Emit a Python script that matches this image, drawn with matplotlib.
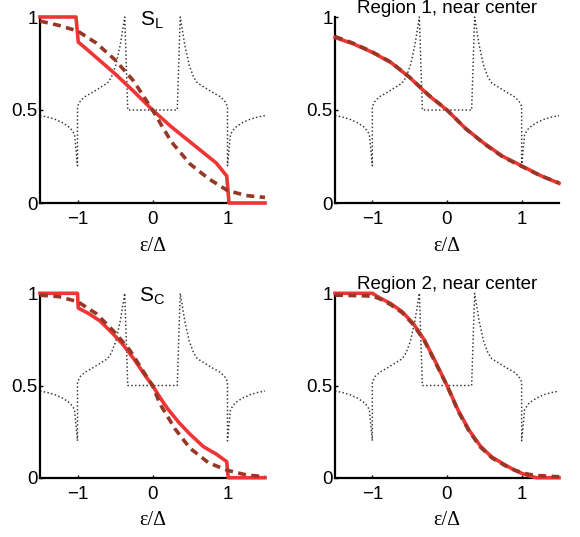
import matplotlib
matplotlib.use('Agg')
import matplotlib.pyplot as plt
import matplotlib.transforms as mtransforms

plt.rcParams['font.family'] = ['Liberation Sans', 'DejaVu Sans']
plt.rcParams['mathtext.fontset'] = 'custom'
plt.rcParams['mathtext.rm'] = 'Liberation Sans'
plt.rcParams['mathtext.it'] = 'Liberation Sans:italic'

# ---- density of states (dotted, same in every panel) ----
dos_x = [-1.5, -1.4, -1.3, -1.2, -1.1, -1.04, -1.0, -1.0, -0.96, -0.9, -0.8, -0.7,
         -0.6, -0.55, -0.49, -0.43, -0.37, -0.33, 0.33, 0.37, 0.43, 0.49, 0.55, 0.6,
         0.7, 0.8, 0.9, 0.96, 1.0, 1.0, 1.04, 1.1, 1.2, 1.3, 1.4, 1.5]
dos_y = [0.47, 0.462, 0.45, 0.432, 0.405, 0.37, 0.2, 0.52, 0.55, 0.572, 0.595, 0.62,
         0.645, 0.675, 0.74, 0.85, 1.0, 0.5, 0.5, 1.0, 0.85, 0.74, 0.675, 0.645,
         0.62, 0.595, 0.572, 0.55, 0.52, 0.2, 0.37, 0.405, 0.432, 0.45, 0.462, 0.47]

# ---- S_L ----
sl_solid_x = [-1.5, -1.02, -0.99, -0.9, -0.7, -0.5, -0.25, 0.0, 0.25, 0.45, 0.65, 0.85, 0.99, 1.02, 1.5]
sl_solid_y = [1.0, 1.0, 0.865, 0.835, 0.765, 0.695, 0.6, 0.5, 0.41, 0.345, 0.28, 0.215, 0.145, 0.0, 0.0]
sl_dash_x = [-1.5, -1.25, -1.0, -0.75, -0.5, -0.25, 0.0, 0.25, 0.5, 0.75, 1.0, 1.25, 1.5]
sl_dash_y = [0.978, 0.955, 0.925, 0.86, 0.77, 0.655, 0.5, 0.33, 0.21, 0.13, 0.067, 0.04, 0.03]

# ---- Region 1, near center ----
r1_x = [-1.5, -1.25, -1.0, -0.75, -0.5, -0.25, 0.0, 0.25, 0.5, 0.75, 1.0, 1.25, 1.5]
r1_solid_y = [0.89, 0.855, 0.81, 0.755, 0.675, 0.58, 0.5, 0.4, 0.32, 0.25, 0.2, 0.148, 0.106]
r1_dash_y = [0.895, 0.858, 0.812, 0.757, 0.676, 0.582, 0.5, 0.4, 0.318, 0.247, 0.197, 0.147, 0.108]

# ---- S_C ----
sc_solid_x = [-1.5, -1.0, -0.99, -0.85, -0.7, -0.55, -0.4, -0.25, -0.1, 0.0, 0.1, 0.2,
              0.35, 0.5, 0.68, 0.85, 0.99, 1.01, 1.5]
sc_solid_y = [1.0, 1.0, 0.92, 0.89, 0.85, 0.79, 0.725, 0.645, 0.555, 0.5, 0.435, 0.375,
              0.3, 0.236, 0.168, 0.128, 0.087, 0.0, 0.0]
sc_dash_x = [-1.5, -1.25, -1.0, -0.75, -0.5, -0.3, -0.1, 0.0, 0.1, 0.3, 0.5, 0.75, 1.0, 1.25, 1.5]
sc_dash_y = [0.99, 0.982, 0.955, 0.89, 0.787, 0.69, 0.562, 0.5, 0.4, 0.265, 0.16, 0.08, 0.04, 0.015, 0.005]

# ---- Region 2, near center ----
r2_x = [-1.5, -1.0, -0.9, -0.76, -0.6, -0.45, -0.3, -0.15, 0.0, 0.15, 0.3, 0.45, 0.6,
        0.78, 0.9, 1.0, 1.1, 1.2, 1.5]
r2_solid_y = [1.0, 1.0, 0.975, 0.946, 0.9, 0.835, 0.745, 0.625, 0.5, 0.365, 0.255, 0.17,
              0.112, 0.069, 0.042, 0.024, 0.01, 0.0, 0.0]
r2_dash_y = [0.99, 0.985, 0.97, 0.94, 0.895, 0.83, 0.74, 0.62, 0.5, 0.36, 0.25, 0.165,
             0.108, 0.065, 0.042, 0.028, 0.018, 0.012, 0.005]

x_ticks = [-1, 0, 1]
x_ticklabels = ['\u22121', '0', '1']
y_ticks = [0, 0.5, 1]
y_ticklabels = ['0', '0.5', '1']

panels = [
    dict(rect=[40/580, 1-203/537, 225/580, 186/537], sx=sl_solid_x, sy=sl_solid_y,
         dx=sl_dash_x, dy=sl_dash_y, label=r'S$_{\mathrm{L}}$', title=None),
    dict(rect=[335/580, 1-203/537, 224/580, 186/537], sx=r1_x, sy=r1_solid_y,
         dx=r1_x, dy=r1_dash_y, label=None, title='Region 1, near center'),
    dict(rect=[40/580, 1-477.7/537, 225/580, 184.4/537], sx=sc_solid_x, sy=sc_solid_y,
         dx=sc_dash_x, dy=sc_dash_y, label=r'S$_{\mathrm{C}}$', title=None),
    dict(rect=[335/580, 1-477.7/537, 224/580, 184.4/537], sx=r2_x, sy=r2_solid_y,
         dx=r2_x, dy=r2_dash_y, label=None, title='Region 2, near center'),
]

red = '#f03535'
brown = '#963826'

fig = plt.figure(figsize=(5.8, 5.37), dpi=100)
fig.patch.set_facecolor('white')

for p in panels:
    ax = fig.add_axes(p['rect'])
    ax.plot(dos_x, dos_y, color='#333333', lw=1.05, ls=(0, (1, 1.6)), zorder=2, clip_on=False)
    ax.plot(p['sx'], p['sy'], color=red, lw=2.6, zorder=3, clip_on=False)
    ax.plot(p['dx'], p['dy'], color=brown, lw=2.6, ls=(0, (2.2, 1.5)), zorder=4, clip_on=False)
    ax.set_xlim(-1.5, 1.5)
    ax.set_ylim(0, 1)
    for s in ['top', 'right']:
        ax.spines[s].set_visible(False)
    for s in ['left', 'bottom']:
        ax.spines[s].set_linewidth(1.6)
        ax.spines[s].set_color('black')
    ax.set_xticks(x_ticks)
    ax.set_xticklabels(x_ticklabels)
    ax.set_yticks(y_ticks)
    ax.set_yticklabels(y_ticklabels)
    ax.tick_params(direction='in', length=2, width=1, labelsize=13.5)
    ax.tick_params(axis='y', pad=1.5)
    ax.tick_params(axis='x', pad=6)
    ax.set_xlabel('\u03b5/\u0394', family=['Liberation Serif'], fontsize=14.5, labelpad=6)
    if p['title']:
        ax.set_title(p['title'], fontsize=13.5, pad=1)
    if p['label']:
        trans = mtransforms.blended_transform_factory(ax.transData, ax.transAxes)
        ax.text(-0.01, 0.955, p['label'], transform=trans, ha='center', va='baseline', fontsize=15)

fig.savefig('out.png', dpi=100, facecolor='white')
